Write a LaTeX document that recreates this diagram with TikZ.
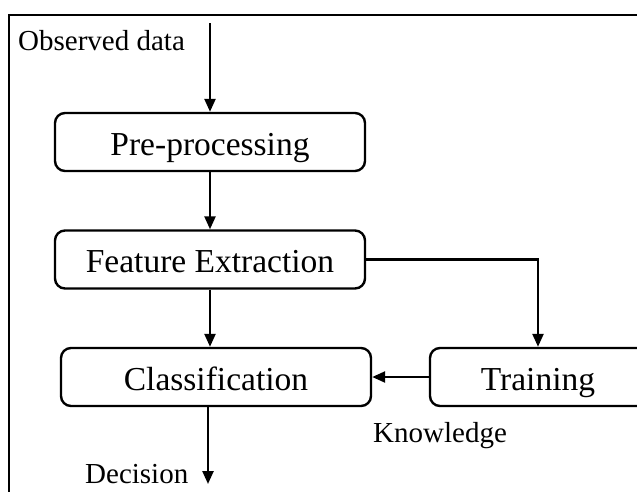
\documentclass[tikz,border=0pt]{standalone}
\usepackage{fontspec}
\setmainfont{Liberation Serif}
\usetikzlibrary{arrows.meta}
\begin{document}
\begin{tikzpicture}[x=1pt,y=-1pt,
  boxtext/.style={font=\fontsize{33.5}{40}\selectfont, text height=26pt, text depth=0pt},
  procbox/.style={boxtext, draw, line width=2.4pt, rounded corners=10pt, minimum height=58pt, minimum width=310pt, inner sep=0pt},
  lbl/.style={font=\fontsize{29}{35}\selectfont, inner sep=0pt},
  conn/.style={line width=2.4pt, -{Triangle[length=13pt,width=11pt]}}]
\useasboundingbox (0,0) rectangle (637,491);
\clip (0,0) rectangle (637,491);
\fill[white] (0,0) rectangle (637,491);
\draw[line width=2.6pt] (9,15) rectangle (720,580);
\node[procbox] (pre) at (210,142) {Pre-processing};
\node[procbox] (feat) at (210,259.5) {Feature Extraction};
\node[procbox] (cls) at (216,377) {Classification};
\node[procbox, minimum width=230pt] (train) at (545,377) {};
\node[boxtext, inner sep=0pt] (traintext) at (538,377) {Training};
\node[lbl, anchor=base west] (obs) at (18,50) {Observed data};
\node[lbl, anchor=base west] (dec) at (85,483) {Decision};
\node[lbl, anchor=base west] (know) at (373,442) {Knowledge};
\coordinate (obsin) at (210,23);
\coordinate (decout) at (208,484);
\draw[conn] (obsin) -- (pre.north -| obsin);
\draw[conn] (pre.south -| obsin) -- (feat.north -| obsin);
\draw[conn] (feat.south -| obsin) -- (cls.north -| obsin);
\draw[conn] (feat.east) -| ([xshift=-7pt]train.north);
\draw[conn] (train.west) -- (cls.east);
\draw[conn] (cls.south -| decout) -- (decout);
\end{tikzpicture}
\end{document}
